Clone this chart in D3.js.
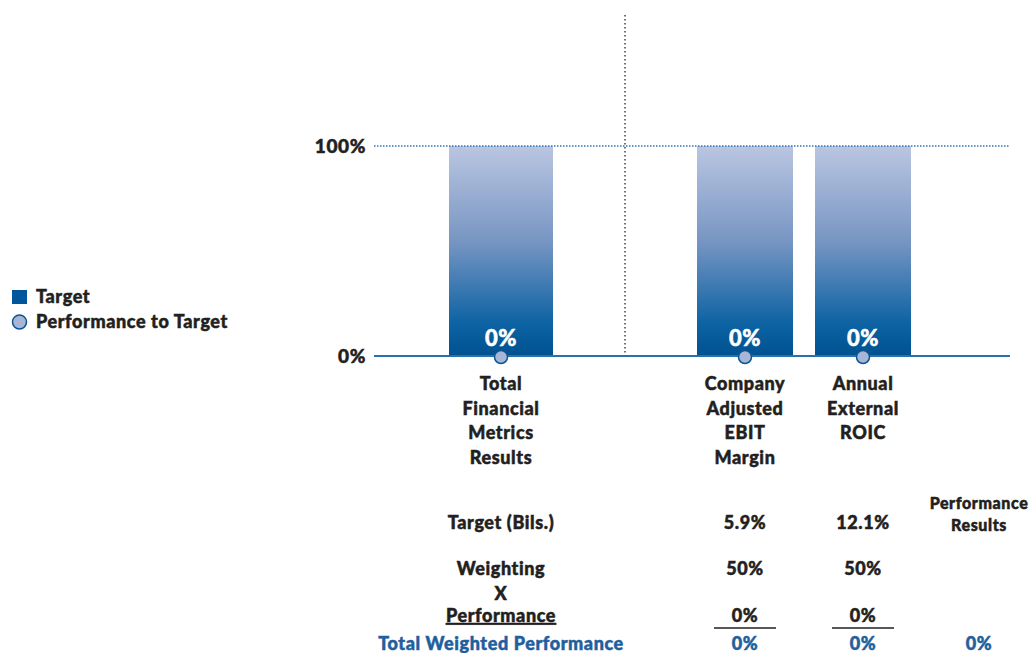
<!DOCTYPE html>
<html lang="en">
<head>
	<meta charset="UTF-8"/>
	<title>Financial Metrics Performance</title>
	<script src="https://d3js.org/d3.v7.min.js"></script>
	<style>
		body{
			margin:0;
			background:#fff;
		}
		text{
			font-family: Lato, "Open Sans", Arial, sans-serif;
			font-weight: 900;
			fill:#231f20;
			stroke:#231f20;
			stroke-width:0.5px;
			letter-spacing:0.6px;
		}
	</style>
</head>
<body>
	<script>
	// chart data
	var categories = ["Total Financial Metrics Results", "Company Adjusted EBIT Margin", "Annual External ROIC"];
	var categoryLines = [["Total", "Financial", "Metrics", "Results"], ["Company", "Adjusted", "EBIT", "Margin"], ["Annual", "External", "ROIC"]];
	var targetValues = [100, 100, 100];
	var performanceValues = [0, 0, 0];
	var yTicks = [0, 100];

	// table rows under the chart
	var targetLabels = ["", "5.9%", "12.1%"];
	var weightingLabels = ["", "50%", "50%"];
	var performanceLabels = ["", "0%", "0%"];
	var weightedLabels = ["", "0%", "0%"];
	var resultsLabel = "0%";

	var w = 1032;
	var h = 653;
	var dark = "#231f20";
	var blue = "#1f5f9e";

	var svg = d3.select("body")
				.append("svg")
				.attr("width", w)
				.attr("height", h);

	var y = d3.scaleLinear()
				.domain([0, 100])
				.range([356, 146]);

	// bar centres and widths
	var x = d3.scaleOrdinal()
				.domain(categories)
				.range([501, 745, 863]);
	var bw = d3.scaleOrdinal()
				.domain(categories)
				.range([104, 96, 96]);

	var defs = svg.append("defs");
	var grad = defs.append("linearGradient")
				.attr("id", "barGrad")
				.attr("x1", 0).attr("y1", 0)
				.attr("x2", 0).attr("y2", 1);
	grad.append("stop").attr("offset", "0%").attr("stop-color", "#bac6e1");
	grad.append("stop").attr("offset", "45%").attr("stop-color", "#7896c3");
	grad.append("stop").attr("offset", "85%").attr("stop-color", "#0c62a3");
	grad.append("stop").attr("offset", "100%").attr("stop-color", "#00528f");

	// divider
	svg.append("line")
		.attr("x1", 625).attr("x2", 625)
		.attr("y1", 15).attr("y2", 355)
		.attr("stroke", "#444")
		.attr("stroke-width", 1.5)
		.attr("stroke-dasharray", "1.5,2.5");

	// bars
	svg.selectAll("rect.bar")
		.data(categories)
		.enter()
		.append("rect")
		.attr("class", "bar")
		.attr("x", function(d){ return x(d) - bw(d)/2; })
		.attr("width", function(d){ return bw(d); })
		.attr("y", function(d, i){ return y(targetValues[i]); })
		.attr("height", function(d, i){ return y(0) - y(targetValues[i]); })
		.style("fill", "url(#barGrad)");

	// 100% dotted line
	svg.append("line")
		.attr("x1", 374).attr("x2", 1010)
		.attr("y1", y(100)).attr("y2", y(100))
		.attr("stroke", "#2f74b5")
		.attr("stroke-width", 1.5)
		.attr("stroke-dasharray", "1.5,1.5");

	// baseline
	svg.append("line")
		.attr("x1", 374).attr("x2", 1010)
		.attr("y1", y(0)).attr("y2", y(0))
		.attr("stroke", "#2a6fb0")
		.attr("stroke-width", 2);

	// y tick labels
	svg.selectAll("text.ytick")
		.data(yTicks)
		.enter()
		.append("text")
		.attr("class", "ytick")
		.attr("x", 366)
		.attr("y", function(d){ return y(d) + 7; })
		.attr("text-anchor", "end")
		.style("font-size", "19px")
		.text(function(d){ return d + "%"; });

	// value labels inside bars
	svg.selectAll("text.val")
		.data(categories)
		.enter()
		.append("text")
		.attr("class", "val")
		.attr("x", function(d){ return x(d); })
		.attr("y", function(d, i){ return y(performanceValues[i]) - 10; })
		.attr("text-anchor", "middle")
		.style("font-size", "22px")
		.style("fill", "#fff")
		.style("stroke", "#fff")
		.text(function(d, i){ return performanceValues[i] + "%"; });

	// performance dots
	svg.selectAll("circle.perf")
		.data(categories)
		.enter()
		.append("circle")
		.attr("class", "perf")
		.attr("cx", function(d){ return x(d); })
		.attr("cy", function(d, i){ return y(performanceValues[i]) + 1; })
		.attr("r", 6.5)
		.style("fill", "#a7b5d7")
		.style("stroke", "#0b5594")
		.style("stroke-width", 1.5);

	// category labels
	categories.forEach(function(c, i){
		var t = svg.append("text")
			.attr("text-anchor", "middle")
			.style("font-size", "18px");
		categoryLines[i].forEach(function(line, j){
			t.append("tspan")
				.attr("x", x(c))
				.attr("y", 390 + j*24.7)
				.text(line);
		});
	});

	// legend
	var legend = svg.append("g");
	legend.append("rect")
		.attr("x", 12).attr("y", 290)
		.attr("width", 15).attr("height", 14)
		.style("fill", "#00569a");
	legend.append("circle")
		.attr("cx", 19.5).attr("cy", 322)
		.attr("r", 7)
		.style("fill", "#a7b5d7")
		.style("stroke", "#0b5594")
		.style("stroke-width", 1.5);
	legend.append("text")
		.attr("x", 36).attr("y", 303)
		.style("font-size", "18px")
		.text("Target");
	legend.append("text")
		.attr("x", 36).attr("y", 328)
		.style("font-size", "18px")
		.text("Performance to Target");

	// table
	var rowLabelX = 501;
	function row(label, values, yy, opts){
		opts = opts || {};
		var col = opts.color || dark;
		var lt = svg.append("text")
			.attr("x", rowLabelX).attr("y", yy)
			.attr("text-anchor", "middle")
			.style("font-size", "18px")
			.style("fill", col)
			.style("stroke", col)
			.text(label);
		if (opts.underline) lt.style("text-decoration", "underline");
		values.forEach(function(v, i){
			if (!v) return;
			svg.append("text")
				.attr("x", x(categories[i]))
				.attr("y", yy)
				.attr("text-anchor", "middle")
				.style("font-size", "18px")
				.style("fill", col)
				.style("stroke", col)
				.text(v);
		});
	}

	row("Target (Bils.)", targetLabels, 529);
	row("Weighting", weightingLabels, 575);
	row("X", ["", "", ""], 600);
	row("Performance", performanceLabels, 622, {underline: true});
	row("Total Weighted Performance", weightedLabels, 650, {color: blue});

	// underlines beneath the performance values
	svg.selectAll("line.under")
		.data(categories.slice(1))
		.enter()
		.append("line")
		.attr("class", "under")
		.attr("x1", function(d){ return x(d) - 31; })
		.attr("x2", function(d){ return x(d) + 31; })
		.attr("y1", 628).attr("y2", 628)
		.attr("stroke", dark)
		.attr("stroke-width", 1.5);

	// performance results column
	var prX = 979;
	var pr = svg.append("text")
		.attr("text-anchor", "middle")
		.style("font-size", "16px");
	pr.append("tspan").attr("x", prX).attr("y", 509).text("Performance");
	pr.append("tspan").attr("x", prX).attr("y", 531).text("Results");

	svg.append("text")
		.attr("x", prX).attr("y", 650)
		.attr("text-anchor", "middle")
		.style("font-size", "18px")
		.style("fill", blue)
		.style("stroke", blue)
		.text(resultsLabel);
	</script>
</body>
</html>
